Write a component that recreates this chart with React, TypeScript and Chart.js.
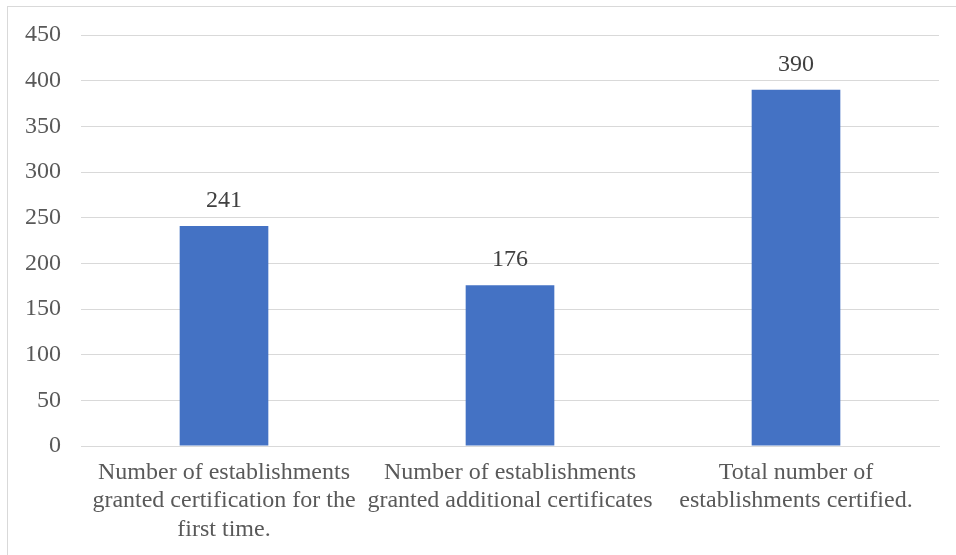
import React, { useEffect, useRef } from "react";
import { Chart, registerables } from "chart.js";

Chart.register(...registerables);

const categories: string[][] = [
  ["Number of establishments", "granted certification for the", "first time."],
  ["Number of establishments", "granted additional certificates"],
  ["Total number of", "establishments certified."],
];
const values: number[] = [241, 176, 390];
const yTicks: number[] = [0, 50, 100, 150, 200, 250, 300, 350, 400, 450];

const FONT = '"Liberation Serif", serif';

// Writes each bar's value above it
const valueLabels = {
  id: "valueLabels",
  afterDatasetsDraw(chart: Chart) {
    const ctx = chart.ctx;
    const meta = chart.getDatasetMeta(0);
    ctx.save();
    ctx.font = `24px ${FONT}`;
    ctx.fillStyle = "#404040";
    ctx.textAlign = "center";
    ctx.textBaseline = "alphabetic";
    meta.data.forEach((bar: any, i: number) => {
      ctx.fillText(String(values[i]), bar.x, bar.y - 19);
    });
    ctx.restore();
  },
};

export default function App() {
  const canvasRef = useRef<HTMLCanvasElement | null>(null);

  useEffect(() => {
    document.body.style.margin = "0";
    document.body.style.background = "#ffffff";
    const canvas = canvasRef.current;
    if (!canvas) return;
    let chart: Chart | null = null;
    let cancelled = false;

    const build = () => {
      if (cancelled) return;
      chart = new Chart(canvas, {
        type: "bar",
        data: {
          labels: categories,
          datasets: [
            {
              data: values,
              backgroundColor: "#4472C4",
              borderWidth: 0,
              categoryPercentage: 1,
              barPercentage: 0.31,
            },
          ],
        },
        options: {
          animation: false,
          responsive: false,
          maintainAspectRatio: false,
          layout: { padding: { left: 0, right: 17, top: 35, bottom: 0 } },
          plugins: {
            legend: { display: false },
            tooltip: { enabled: false },
          },
          scales: {
            x: {
              grid: { display: false, drawTicks: false },
              border: { display: true, color: "#d9d9d9", width: 1 },
              ticks: {
                color: "#595959",
                font: { family: FONT, size: 24, lineHeight: 1.2 },
                padding: 12,
                maxRotation: 0,
                autoSkip: false,
              },
              afterFit(scale: any) {
                scale.height = 109;
              },
            },
            y: {
              min: 0,
              max: 450,
              afterBuildTicks(scale: any) {
                scale.ticks = yTicks.map((v) => ({ value: v }));
              },
              grid: { color: "#d9d9d9", lineWidth: 1, drawTicks: false },
              border: { display: false },
              ticks: {
                color: "#595959",
                font: { family: FONT, size: 24 },
                padding: 20,
              },
              afterFit(scale: any) {
                scale.width = 81;
              },
            },
          },
        },
        plugins: [valueLabels],
      });
    };

    const fonts = (document as any).fonts;
    if (fonts && fonts.load) {
      fonts.load(`24px ${FONT}`).then(build, build);
    } else {
      build();
    }
    return () => {
      cancelled = true;
      if (chart) chart.destroy();
    };
  }, []);

  return (
    <div style={{ position: "relative", width: 956, height: 555, background: "#ffffff", fontFamily: FONT }}>
      <div
        style={{
          position: "absolute",
          left: 7,
          top: 6,
          right: 0,
          bottom: 0,
          borderLeft: "1px solid #d9d9d9",
          borderTop: "1px solid #d9d9d9",
        }}
      />
      <canvas
        ref={canvasRef}
        width={956}
        height={555}
        style={{ position: "absolute", left: 0, top: 0, width: 956, height: 555 }}
      />
    </div>
  );
}
